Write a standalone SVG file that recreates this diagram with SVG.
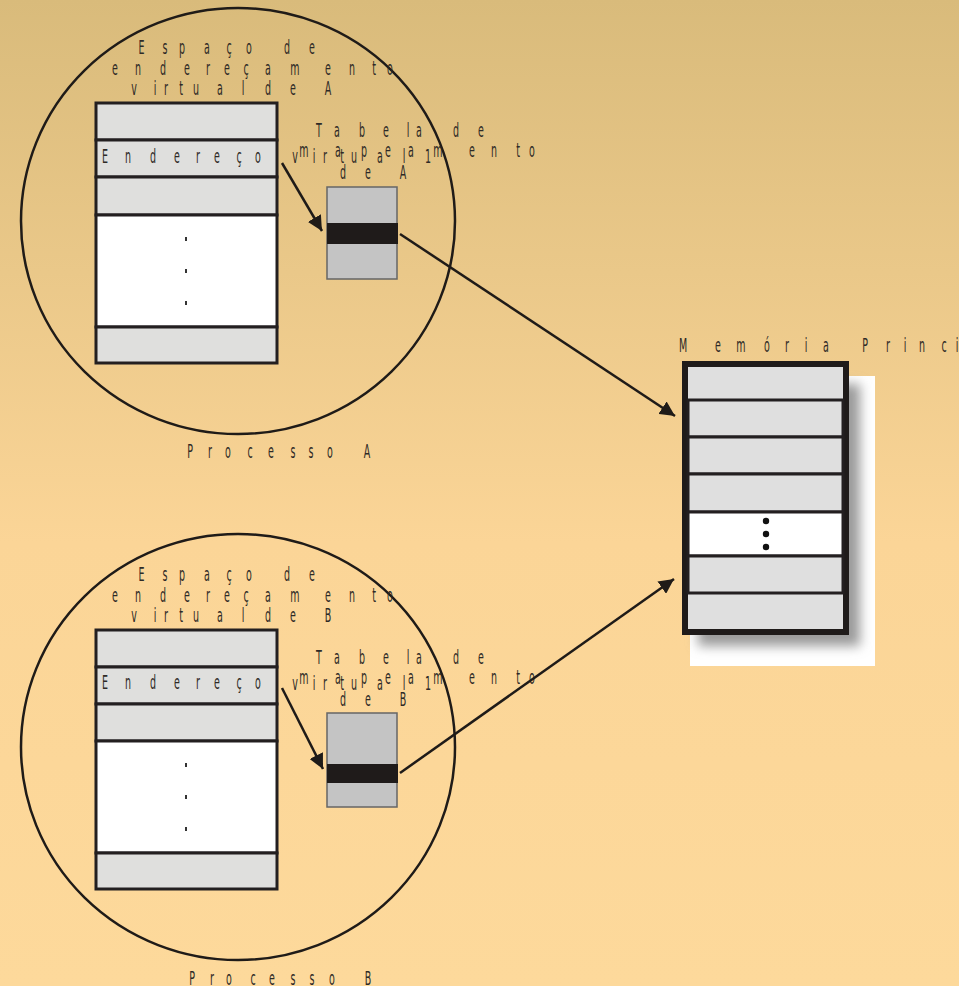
<svg xmlns="http://www.w3.org/2000/svg" width="959" height="986" viewBox="0 0 959 986">
  <defs>
    <linearGradient id="bg" x1="0" y1="0" x2="0" y2="1">
      <stop offset="0" stop-color="#d9bb7b"/>
      <stop offset="0.55" stop-color="#fbd597"/>
      <stop offset="1" stop-color="#fdd99b"/>
    </linearGradient>
    <filter id="soft" x="-20%" y="-20%" width="140%" height="140%">
      <feGaussianBlur stdDeviation="6"/>
    </filter>
    <marker id="arrow" viewBox="0 0 10 10" refX="10" refY="5" markerWidth="6" markerHeight="6" markerUnits="strokeWidth" orient="auto">
      <path d="M0,0 L10,5 L0,10 z" fill="#1f1b18"/>
    </marker>
    <style>
      .lbl { font-family: "DejaVu Sans", "Liberation Sans", sans-serif; font-size: 19px; fill: #2e2a26; text-anchor: middle; }
      .ring { fill: none; stroke: #1f1b18; stroke-width: 2.5; }
      .cell { fill: #dfdfdd; stroke: #231f20; stroke-width: 3; }
      .blank { fill: #ffffff; stroke: #231f20; stroke-width: 3; }
      .tbl { fill: #c4c4c4; stroke: #666; stroke-width: 1.5; }
      .band { fill: #1f1b1a; }
      .dot { fill: #333; }
      .link { fill: none; stroke: #1f1b18; stroke-width: 2.5; marker-end: url(#arrow); }
      .mrow { fill: #dfdfdf; stroke: #231f20; stroke-width: 3; }
    </style>
  </defs>

  <rect width="959" height="986" fill="url(#bg)"/>

  <!-- Process A -->
  <g id="processA">
    <ellipse class="ring" cx="238" cy="221" rx="217" ry="213"/>
    <text class="lbl" transform="scale(0.5 1)" x="283 330 364 414 458 498 536 574 624" y="54">Espaço de</text>
    <text class="lbl" transform="scale(0.5 1)" x="230 276 326 374 416 454 492 536 590 656 704 748 780" y="75">endereçamento</text>
    <text class="lbl" transform="scale(0.5 1)" x="268 310 332 362 392 440 486 512 536 586 620 656" y="95">virtual de A</text>
    <text class="lbl" transform="scale(0.5 1)" x="380 420 456 500 542 586 622 660 696 734" y="458">Processo A</text>
  </g>

  <g id="spaceA">
    <rect class="cell" x="96" y="103" width="181" height="37"/>
    <rect class="cell" x="96" y="140" width="181" height="37"/>
    <rect class="cell" x="96" y="177" width="181" height="38"/>
    <rect class="blank" x="96" y="215" width="181" height="112"/>
    <rect class="cell" x="96" y="327" width="181" height="36"/>
    <text class="lbl" transform="scale(0.5 1)" x="210 256 306 354 396 434 478 516" y="163">Endereço</text>
    <rect class="dot" x="185" y="237" width="2" height="4"/>
    <rect class="dot" x="185" y="269" width="2" height="4"/>
    <rect class="dot" x="185" y="301" width="2" height="4"/>
  </g>

  <g id="tableA">
    <rect class="tbl" x="327" y="187" width="70" height="92"/>
    <rect class="band" x="327" y="223" width="71" height="21"/>
    <text class="lbl" transform="scale(0.5 1)" x="638 674 724 772 816 838 876 912 962" y="137">Tabela de</text>
    <text class="lbl" transform="scale(0.5 1)" x="608 676 728 776 822 876 944 988 1036 1064" y="157">mapeamento</text>
    <text class="lbl" transform="scale(0.5 1)" x="590 628 650 684 708 760 808 836 856" y="163">virtual 1</text>
    <text class="lbl" transform="scale(0.5 1)" x="686 736 770 806" y="179">de A</text>
  </g>

  <!-- Process B -->
  <g id="processB">
    <ellipse class="ring" cx="238" cy="747" rx="217" ry="213"/>
    <text class="lbl" transform="scale(0.5 1)" x="283 330 364 414 458 498 536 574 624" y="581">Espaço de</text>
    <text class="lbl" transform="scale(0.5 1)" x="230 276 326 374 416 454 492 536 590 656 704 748 780" y="602">endereçamento</text>
    <text class="lbl" transform="scale(0.5 1)" x="268 310 332 362 392 440 486 512 536 586 620 656" y="622">virtual de B</text>
    <text class="lbl" transform="scale(0.5 1)" x="384 424 458 506 544 586 624 664 700 736" y="985">Processo B</text>
  </g>

  <g id="spaceB">
    <rect class="cell" x="96" y="630" width="181" height="37"/>
    <rect class="cell" x="96" y="667" width="181" height="37"/>
    <rect class="cell" x="96" y="704" width="181" height="37"/>
    <rect class="blank" x="96" y="741" width="181" height="112"/>
    <rect class="cell" x="96" y="853" width="181" height="36"/>
    <text class="lbl" transform="scale(0.5 1)" x="210 256 306 354 396 434 478 516" y="689">Endereço</text>
    <rect class="dot" x="185" y="763" width="2" height="4"/>
    <rect class="dot" x="185" y="795" width="2" height="4"/>
    <rect class="dot" x="185" y="827" width="2" height="4"/>
  </g>

  <g id="tableB">
    <rect class="tbl" x="327" y="713" width="70" height="94"/>
    <rect class="band" x="327" y="764" width="71" height="19"/>
    <text class="lbl" transform="scale(0.5 1)" x="638 674 724 772 816 838 876 912 962" y="664">Tabela de</text>
    <text class="lbl" transform="scale(0.5 1)" x="608 676 728 776 822 876 944 988 1036 1064" y="684">mapeamento</text>
    <text class="lbl" transform="scale(0.5 1)" x="590 628 650 684 708 760 808 836 856" y="690">virtual 1</text>
    <text class="lbl" transform="scale(0.5 1)" x="686 736 770 806" y="706">de B</text>
  </g>

  <!-- Main memory -->
  <g id="memory">
    <rect x="690" y="376" width="185" height="290" fill="#ffffff"/>
    <rect x="698" y="384" width="162" height="262" fill="#9a9a9a" filter="url(#soft)"/>
    <rect x="685" y="364" width="161" height="268" fill="#dfdfdf" stroke="#1f1b1a" stroke-width="6"/>
    <rect class="mrow" x="688" y="400" width="155" height="37"/>
    <rect class="mrow" x="688" y="437" width="155" height="37"/>
    <rect class="mrow" x="688" y="474" width="155" height="38"/>
    <rect x="688" y="512" width="155" height="44" fill="#ffffff" stroke="#231f20" stroke-width="3"/>
    <rect class="mrow" x="688" y="556" width="155" height="37"/>
    <circle cx="766" cy="521" r="3.2" fill="#111"/>
    <circle cx="766" cy="534" r="3.2" fill="#111"/>
    <circle cx="766" cy="547" r="3.2" fill="#111"/>
    <text class="lbl" transform="scale(0.5 1)" x="1366 1436 1482 1534 1574 1612 1652 1690 1730 1776 1810 1844 1888 1914" y="352">Memória Princi</text>
  </g>

  <!-- Connectors -->
  <g id="connectors">
    <line class="link" x1="282" y1="163" x2="322" y2="231"/>
    <line class="link" x1="282" y1="688" x2="323" y2="769"/>
    <line class="link" x1="400" y1="234" x2="675" y2="416"/>
    <line class="link" x1="400" y1="773" x2="674" y2="579"/>
  </g>
</svg>
